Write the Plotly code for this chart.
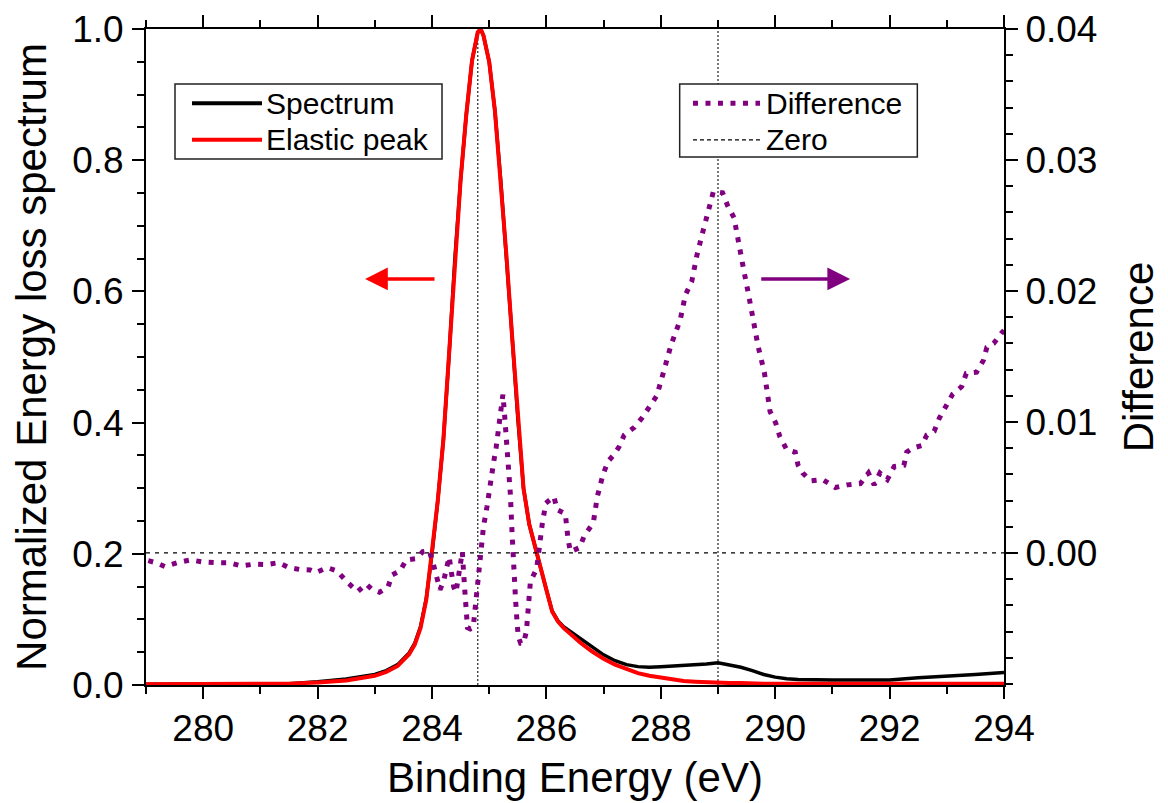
import plotly.graph_objects as go

# ---------------- data ----------------
energy = [279.0, 279.5, 280.0, 280.5, 281.0, 281.5, 282.0, 282.5, 283.0, 283.2,
          283.4, 283.6, 283.7, 283.8, 283.9, 284.0, 284.1, 284.2, 284.3, 284.4,
          284.5, 284.6, 284.7, 284.8, 284.85, 284.9, 285.0, 285.1, 285.2, 285.3,
          285.4, 285.5, 285.6, 285.7, 285.8, 285.9, 286.0, 286.1, 286.2, 286.3,
          286.4, 286.5, 286.6, 286.8, 287.0, 287.2, 287.4, 287.6, 287.8, 288.0,
          288.2, 288.4, 288.6, 288.8, 289.0, 289.2, 289.4, 289.6, 289.8, 290.0,
          290.2, 290.4, 290.6, 291.0, 291.5, 292.0, 292.5, 293.0, 293.5, 294.0]

elastic = [0.001, 0.001, 0.001, 0.001, 0.0015, 0.002, 0.004, 0.007, 0.014, 0.020,
           0.029, 0.047, 0.062, 0.087, 0.130, 0.200, 0.280, 0.375, 0.505, 0.650,
           0.770, 0.870, 0.952, 0.995, 1.000, 0.990, 0.950, 0.875, 0.771, 0.656,
           0.532, 0.407, 0.300, 0.245, 0.210, 0.180, 0.145, 0.112, 0.097, 0.087,
           0.079, 0.071, 0.064, 0.051, 0.040, 0.031, 0.024, 0.018, 0.014, 0.011,
           0.008, 0.006, 0.005, 0.004, 0.003, 0.003, 0.003, 0.002, 0.002, 0.002,
           0.002, 0.002, 0.002, 0.002, 0.002, 0.002, 0.002, 0.002, 0.002, 0.002]

spectrum = [0.001, 0.001, 0.001, 0.001, 0.0015, 0.002, 0.005, 0.009, 0.016, 0.022,
            0.031, 0.049, 0.064, 0.089, 0.132, 0.200, 0.280, 0.375, 0.505, 0.650,
            0.770, 0.870, 0.952, 0.995, 1.000, 0.990, 0.950, 0.875, 0.771, 0.656,
            0.532, 0.407, 0.300, 0.245, 0.210, 0.180, 0.145, 0.113, 0.098, 0.089,
            0.083, 0.077, 0.071, 0.058, 0.046, 0.037, 0.031, 0.028, 0.027, 0.028,
            0.029, 0.029, 0.030, 0.032, 0.034, 0.031, 0.027, 0.022, 0.016, 0.012,
            0.0095, 0.0085, 0.008, 0.0076, 0.0076, 0.0078, 0.011, 0.013, 0.016, 0.019]

diff_energy = [279.04, 279.17, 279.33, 279.55, 279.78, 280.00, 280.22, 280.45, 280.67, 280.88,
               281.10, 281.32, 281.50, 281.70, 281.87, 281.97, 282.17, 282.34, 282.52, 282.70,
               282.85, 282.96, 283.08, 283.23, 283.30, 283.44, 283.55, 283.73, 283.84, 283.95,
               284.02, 284.08, 284.14, 284.20, 284.26, 284.30, 284.34, 284.38, 284.42, 284.46,
               284.50, 284.53, 284.56, 284.59, 284.62, 284.67, 284.72, 284.76, 284.80, 284.84,
               284.90, 284.96, 285.00, 285.04, 285.08, 285.12, 285.17, 285.22, 285.24, 285.27,
               285.30, 285.33, 285.35, 285.37, 285.40, 285.43, 285.46, 285.49, 285.51, 285.55,
               285.60, 285.65, 285.68, 285.72, 285.83, 285.88, 285.93, 285.99, 286.13, 286.19,
               286.33, 286.38, 286.42, 286.58, 286.66, 286.82, 286.89, 286.99, 287.08, 287.18,
               287.27, 287.36, 287.54, 287.67, 287.78, 287.93, 288.06, 288.18, 288.34, 288.43,
               288.54, 288.63, 288.74, 288.86, 288.92, 289.08, 289.17, 289.28, 289.38, 289.45,
               289.54, 289.62, 289.70, 289.81, 289.91, 290.01, 290.08, 290.20, 290.35, 290.40,
               290.48, 290.62, 290.83, 291.05, 291.26, 291.49, 291.63, 291.73, 291.83, 291.96,
               292.08, 292.25, 292.30, 292.40, 292.56, 292.65, 292.78, 292.87, 292.99, 293.10,
               293.26, 293.34, 293.52, 293.64, 293.70, 293.82, 293.96, 294.00]

difference = [-0.00059, -0.00074, -0.00104, -0.00074, -0.00053, -0.00069, -0.00074, -0.00074, -0.00099, -0.00086,
              -0.00089, -0.00074, -0.00112, -0.00127, -0.00130, -0.00150, -0.00112, -0.00137, -0.00224, -0.00295,
              -0.00237, -0.00282, -0.00300, -0.00262, -0.00168, -0.00137, -0.00053, -0.00043, 0.00010, 0.00020,
              -0.0008, -0.0020, -0.0028, -0.0022, -0.0012, -0.0003, -0.0015, -0.0026, -0.0030, -0.0018,
              -0.0004, 0.0001, -0.0020, -0.0040, -0.0057, -0.0058, -0.0057, -0.0040, -0.0020, 0.0001,
              0.0020, 0.0035, 0.0049, 0.0060, 0.0070, 0.0080, 0.0098, 0.0118, 0.0121, 0.0105,
              0.0088, 0.0072, 0.0060, 0.0045, 0.0015, -0.0016, -0.0035, -0.0055, -0.0064, -0.0069,
              -0.0069, -0.0060, -0.0045, -0.0022, -0.0012, 0.0008, 0.0023, 0.0038, 0.0043, 0.0033,
              0.0030, 0.0010, 0.0001, 0.0004, 0.0013, 0.0023, 0.0043, 0.0060, 0.0070, 0.0075,
              0.0081, 0.0090, 0.0096, 0.0103, 0.0110, 0.0120, 0.0140, 0.0159, 0.0178, 0.0197,
              0.0207, 0.0227, 0.0246, 0.0266, 0.0276, 0.0275, 0.0265, 0.0256, 0.0235, 0.0216,
              0.0196, 0.0177, 0.0158, 0.0138, 0.0108, 0.0099, 0.0089, 0.0079, 0.0077, 0.0067,
              0.0061, 0.0055, 0.0056, 0.0050, 0.0052, 0.0053, 0.0061, 0.0052, 0.0061, 0.0056,
              0.0066, 0.0067, 0.0077, 0.0080, 0.0082, 0.0090, 0.0093, 0.0103, 0.0112, 0.0121,
              0.0127, 0.0137, 0.0138, 0.0147, 0.0157, 0.0160, 0.0168, 0.0170]

zero_energy = [279.0, 294.0]
zero_level = [0.0, 0.0]
marker_energies = [284.8, 289.0]

x_tickvals = [280, 282, 284, 286, 288, 290, 292, 294]
y_tickvals = [0.0, 0.2, 0.4, 0.6, 0.8, 1.0]
y2_tickvals = [0.00, 0.01, 0.02, 0.03, 0.04]
y2_ticktext = ["0.00", "0.01", "0.02", "0.03", "0.04"]

# ---------------- figure ----------------
FONT = "Liberation Sans, Arial, sans-serif"
PURPLE = "#800080"
TICK_SIZE = 37
TITLE_SIZE = 42
LEGEND_SIZE = 30

fig = go.Figure()
fig.add_trace(go.Scatter(x=energy, y=spectrum, mode="lines", name="Spectrum",
                         line=dict(color="black", width=3.5), showlegend=False))
fig.add_trace(go.Scatter(x=energy, y=elastic, mode="lines", name="Elastic peak",
                         line=dict(color="#ff0000", width=4), showlegend=False))
fig.add_trace(go.Scatter(x=zero_energy, y=zero_level, mode="lines", name="Zero", yaxis="y2",
                         line=dict(color="black", width=1.3, dash="4px,5px"), showlegend=False))
fig.add_trace(go.Scatter(x=diff_energy, y=difference, mode="lines", name="Difference", yaxis="y2",
                         line=dict(color=PURPLE, width=5, dash="5px,7.5px"), showlegend=False))

axis_common = dict(showline=True, linewidth=2, linecolor="black", ticks="outside",
                   ticklen=12, tickwidth=2, tickcolor="black", showgrid=False, zeroline=False,
                   automargin=False,
                   tickfont=dict(family=FONT, size=TICK_SIZE, color="black"))

# the page body adds an 8px margin, so the figure is 8px smaller and margins shifted
fig.update_layout(
    width=1160, height=795,
    margin=dict(l=138, r=164, t=21, b=118, autoexpand=False),
    paper_bgcolor="white", plot_bgcolor="white",
    showlegend=False,
    xaxis=dict(range=[279, 294], tickmode="array", tickvals=x_tickvals, mirror="ticks",
               ticklabelstandoff=-2,
               minor=dict(tickmode="linear", tick0=279, dtick=1, ticks="outside", ticklen=7,
                          tickwidth=2, tickcolor="black"),
               title=dict(text="Binding Energy (eV)",
                          font=dict(family=FONT, size=TITLE_SIZE, color="black"), standoff=14),
               **axis_common),
    yaxis=dict(range=[0, 1.0], tickmode="array", tickvals=y_tickvals, tickformat=".1f",
               ticklabelstandoff=1,
               minor=dict(tickmode="linear", tick0=0, dtick=0.05, ticks="outside", ticklen=7,
                          tickwidth=2, tickcolor="black"),
               title=dict(text="Normalized Energy loss spectrum",
                          font=dict(family=FONT, size=TITLE_SIZE, color="black"), standoff=13),
               **axis_common),
    yaxis2=dict(range=[-0.01008, 0.04], overlaying="y", side="right", tickmode="array",
                tickvals=y2_tickvals, ticktext=y2_ticktext,
                minor=dict(tickmode="linear", tick0=0, dtick=0.002, ticks="outside", ticklen=7,
                           tickwidth=2, tickcolor="black"),
                title=dict(text="Difference", font=dict(family=FONT, size=TITLE_SIZE, color="black"),
                           standoff=27),
                **axis_common),
)

# vertical dotted reference lines
for e in marker_energies:
    fig.add_shape(type="line", xref="x", yref="paper", x0=e, x1=e, y0=0, y1=1,
                  line=dict(color="#333333", width=1.3, dash="2px,2px"), layer="below")

# arrows pointing to the relevant axes
fig.add_annotation(x=282.83, y=0.619, ax=284.07, ay=0.619, xref="x", yref="y", axref="x", ayref="y",
                   text="", showarrow=True, arrowhead=2, arrowsize=1.3, arrowwidth=3.5,
                   arrowcolor="#ff0000")
fig.add_annotation(x=291.31, y=0.619, ax=289.73, ay=0.619, xref="x", yref="y", axref="x", ayref="y",
                   text="", showarrow=True, arrowhead=2, arrowsize=1.3, arrowwidth=3.5,
                   arrowcolor=PURPLE)

# hand-drawn legends (boxes, sample lines, labels)
def legend_box(x0, x1, y0, y1, entries):
    fig.add_shape(type="rect", xref="paper", yref="paper", x0=x0, x1=x1, y0=y0, y1=y1,
                  fillcolor="white", line=dict(color="#222222", width=1.5), layer="above")
    for (lx0, lx1, ly, line_style, label, tx) in entries:
        fig.add_shape(type="line", xref="paper", yref="paper", x0=lx0, x1=lx1, y0=ly, y1=ly,
                      line=line_style, layer="above")
        fig.add_annotation(x=tx, y=ly, xref="paper", yref="paper", text=label, showarrow=False,
                           xanchor="left", yanchor="middle", xshift=-2,
                           font=dict(family=FONT, size=LEGEND_SIZE, color="black"))

legend_box(0.0338, 0.345, 0.802, 0.916, [
    (0.0536, 0.1352, 0.887, dict(color="black", width=4), "Spectrum", 0.140),
    (0.0536, 0.1352, 0.831, dict(color="#ff0000", width=4), "Elastic peak", 0.140),
])
legend_box(0.622, 0.899, 0.805, 0.916, [
    (0.6375, 0.7156, 0.887, dict(color=PURPLE, width=5, dash="5px,7.5px"), "Difference", 0.723),
    (0.6375, 0.7156, 0.831, dict(color="black", width=1.3, dash="4px,3px"), "Zero", 0.723),
])

fig.write_html("out.html")
